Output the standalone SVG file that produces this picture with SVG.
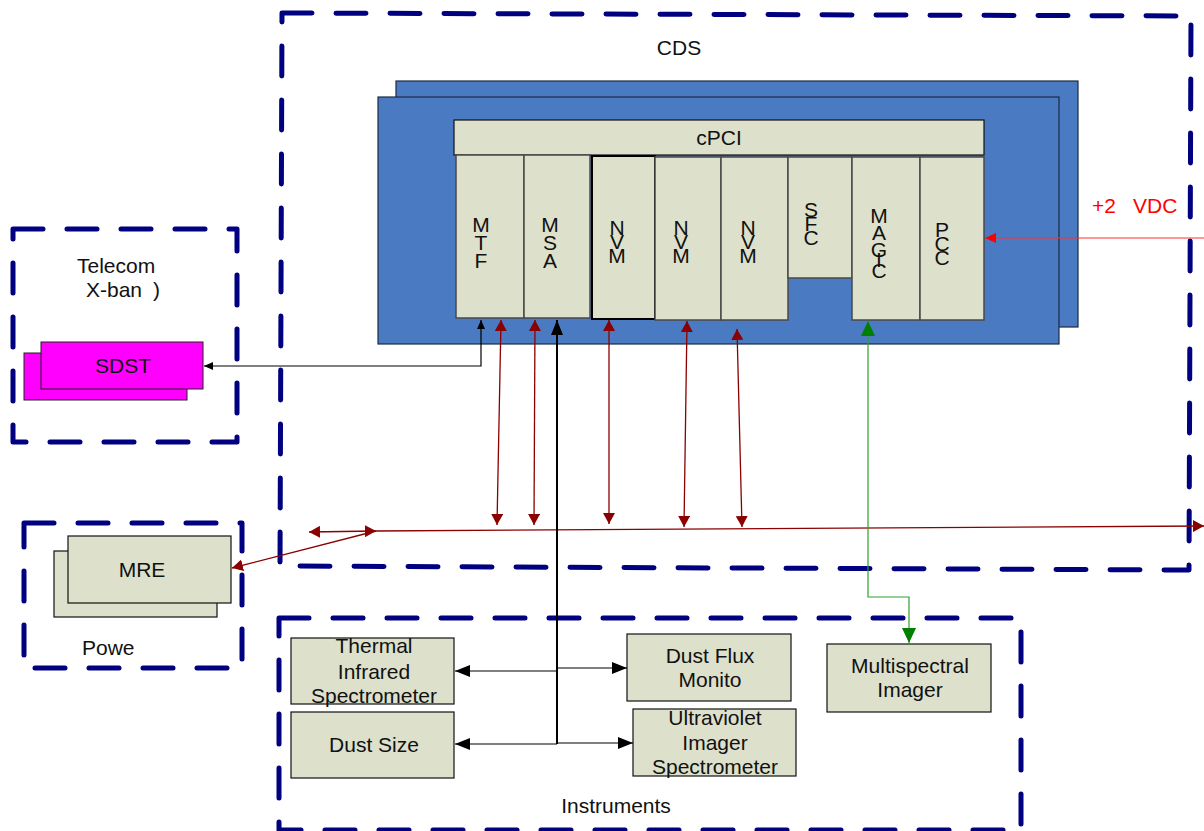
<svg xmlns="http://www.w3.org/2000/svg" width="1204" height="831" viewBox="0 0 1204 831">
<style>
text{font-family:"Liberation Sans",Arial,sans-serif;font-size:21px;fill:#111;}
.c{text-anchor:middle;}
.dash{fill:none;stroke:#000080;stroke-width:5;stroke-dasharray:30 24;stroke-linecap:round;stroke-linejoin:round;}
.chassis{fill:#4a7bc2;stroke:#1c2b44;stroke-width:1.2;}
.box{fill:#dde0cb;stroke:#111;stroke-width:1.2;}
.slot{fill:#dde0cb;stroke:#4a4a4a;stroke-width:1.5;}
.pink{fill:#ff00ff;stroke:#222;stroke-width:1;}
.dr{stroke:#8b0000;stroke-width:1.3;fill:none;}
.bk{stroke:#000;stroke-width:1.2;fill:none;}
.bkt{stroke:#000;stroke-width:2;fill:none;}
.gr{stroke:#2ea02e;stroke-width:1.2;fill:none;}
.rd{stroke:#ff3030;stroke-width:1.2;fill:none;}
</style>
<defs>
<marker id="mDR" markerUnits="userSpaceOnUse" markerWidth="12" markerHeight="12" refX="11" refY="6" orient="auto-start-reverse"><path d="M0,0 L11,6 L0,12 z" fill="#8b0000"/></marker>
<marker id="mBK" markerUnits="userSpaceOnUse" markerWidth="10" markerHeight="10" refX="9" refY="4" orient="auto-start-reverse"><path d="M0,0 L9,4 L0,8 z" fill="#000"/></marker>
<marker id="mBKL" markerUnits="userSpaceOnUse" markerWidth="16" markerHeight="12" refX="15" refY="6" orient="auto-start-reverse"><path d="M0,0 L15,6 L0,12 z" fill="#000"/></marker>
<marker id="mGR" markerUnits="userSpaceOnUse" markerWidth="16" markerHeight="14" refX="15" refY="7" orient="auto-start-reverse"><path d="M0,0 L15,7 L0,14 z" fill="#008000"/></marker>
<marker id="mRD" markerUnits="userSpaceOnUse" markerWidth="12" markerHeight="12" refX="11" refY="5" orient="auto-start-reverse"><path d="M0,0 L11,5 L0,10 z" fill="#ff0000"/></marker>
</defs>

<g id="cds-group">
<path class="dash" d="M282,13 L1191,16 L1189,570 L280,566 Z"/>
<text class="c" x="679" y="55">CDS</text>
</g>
<g id="telecom-group">
<rect class="dash" x="13" y="229" width="224" height="213"/>
<text x="77" y="273">Telecom</text>
<text x="86" y="297">X-ban<tspan x="153">)</tspan></text>
</g>
<g id="power-group">
<rect class="dash" x="24" y="523" width="218" height="145"/>
<text x="82" y="655">Powe</text>
</g>
<g id="instruments-group">
<rect class="dash" x="279" y="618" width="742" height="212"/>
<text class="c" x="616" y="813">Instruments</text>
</g>

<g id="chassis">
<rect class="chassis" x="396" y="81" width="682" height="246"/>
<rect class="chassis" x="378" y="97" width="681" height="247"/>
</g>
<g id="cpci">
<rect class="box" x="454" y="120" width="530" height="35"/>
<text class="c" x="719" y="145">cPCI</text>
</g>
<g id="slot-mtf">
<rect class="slot" x="456" y="155" width="68" height="163"/>
<text class="c"><tspan x="481" y="232">M</tspan><tspan x="481" y="250">T</tspan><tspan x="481" y="268">F</tspan></text>
</g>
<g id="slot-msa">
<rect class="slot" x="524" y="155" width="66" height="163"/>
<text class="c"><tspan x="550" y="232">M</tspan><tspan x="550" y="250">S</tspan><tspan x="550" y="268">A</tspan></text>
</g>
<g id="slot-nvm1">
<rect x="592" y="156" width="63" height="163" fill="#dde0cb" stroke="#000" stroke-width="2"/>
<text class="c"><tspan x="617" y="235">N</tspan><tspan x="617" y="249">V</tspan><tspan x="617" y="263">M</tspan></text>
</g>
<g id="slot-nvm2">
<rect class="slot" x="655" y="157" width="66" height="163"/>
<text class="c"><tspan x="681" y="235">N</tspan><tspan x="681" y="249">V</tspan><tspan x="681" y="263">M</tspan></text>
</g>
<g id="slot-nvm3">
<rect class="slot" x="721" y="157" width="67" height="163"/>
<text class="c"><tspan x="748" y="235">N</tspan><tspan x="748" y="249">V</tspan><tspan x="748" y="263">M</tspan></text>
</g>
<g id="slot-sfc">
<rect class="slot" x="788" y="157" width="64" height="121"/>
<text class="c"><tspan x="811" y="217">S</tspan><tspan x="811" y="231">F</tspan><tspan x="811" y="245">C</tspan></text>
</g>
<g id="slot-magc">
<rect class="slot" x="852" y="157" width="68" height="163"/>
<text class="c"><tspan x="879" y="223">M</tspan><tspan x="879" y="240">A</tspan><tspan x="879" y="257">G</tspan><tspan x="879" y="267">I</tspan><tspan x="879" y="278">C</tspan></text>
</g>
<g id="slot-pcc">
<rect class="slot" x="920" y="157" width="64" height="163"/>
<text class="c"><tspan x="942" y="237">P</tspan><tspan x="942" y="251">C</tspan><tspan x="942" y="265">C</tspan></text>
</g>

<g id="sdst">
<rect class="pink" x="24" y="353" width="163" height="47"/>
<rect class="pink" x="41" y="342" width="162" height="47"/>
<text class="c" x="123" y="373">SDST</text>
</g>
<g id="mre">
<rect class="box" x="54" y="551" width="163" height="66" stroke="#555"/>
<rect class="box" x="68" y="536" width="163" height="67" stroke="#555"/>
<text class="c" x="142" y="577">MRE</text>
</g>
<g id="thermal">
<rect class="box" x="291" y="638" width="163" height="66"/>
<text class="c"><tspan x="374" y="653">Thermal</tspan><tspan x="374" y="679">Infrared</tspan><tspan x="374" y="703">Spectrometer</tspan></text>
</g>
<g id="dust-size">
<rect class="box" x="291" y="712" width="163" height="66"/>
<text class="c" x="374" y="752">Dust Size</text>
</g>
<g id="dust-flux">
<rect class="box" x="627" y="634" width="164" height="67"/>
<text class="c"><tspan x="710" y="663">Dust Flux</tspan><tspan x="710" y="687">Monito</tspan></text>
</g>
<g id="uv">
<rect class="box" x="633" y="709" width="163" height="67"/>
<text class="c"><tspan x="715" y="725">Ultraviolet</tspan><tspan x="715" y="750">Imager</tspan><tspan x="715" y="774">Spectrometer</tspan></text>
</g>
<g id="multispectral">
<rect class="box" x="827" y="644" width="164" height="68"/>
<text class="c"><tspan x="910" y="673">Multispectral</tspan><tspan x="910" y="697">Imager</tspan></text>
</g>
<g id="vdc-label">
<text x="1092" y="213" fill="#ff0000" style="fill:#ff0000">+2<tspan x="1133">VDC</tspan></text>
</g>

<g id="connectors">
<polyline class="bk" points="481,320 481,366 204,366" marker-start="url(#mBK)" marker-end="url(#mBK)"/>
<line class="dr" x1="501" y1="320" x2="497" y2="525" marker-start="url(#mDR)" marker-end="url(#mDR)"/>
<line class="dr" x1="535" y1="320" x2="534" y2="525" marker-start="url(#mDR)" marker-end="url(#mDR)"/>
<line class="dr" x1="609" y1="320" x2="609" y2="524" marker-start="url(#mDR)" marker-end="url(#mDR)"/>
<line class="dr" x1="687" y1="321" x2="684" y2="527" marker-start="url(#mDR)" marker-end="url(#mDR)"/>
<line class="dr" x1="737" y1="329" x2="742" y2="527" marker-start="url(#mDR)" marker-end="url(#mDR)"/>
<line class="dr" x1="309" y1="532" x2="376" y2="531" marker-start="url(#mDR)" marker-end="url(#mDR)"/>
<line class="dr" x1="376" y1="531" x2="1204" y2="526" marker-end="url(#mDR)"/>
<line class="dr" x1="376" y1="531" x2="232" y2="568" marker-end="url(#mDR)"/>
<line class="bkt" x1="557" y1="744" x2="557" y2="320" marker-end="url(#mBKL)"/>
<line class="bk" x1="557" y1="671" x2="455" y2="671" marker-end="url(#mBKL)"/>
<line class="bk" x1="557" y1="668" x2="627" y2="668" marker-end="url(#mBKL)"/>
<line class="bk" x1="557" y1="744" x2="455" y2="744" marker-end="url(#mBKL)"/>
<line class="bk" x1="557" y1="743" x2="633" y2="743" marker-end="url(#mBKL)"/>
<polyline class="gr" points="868,321 868,597 909,597 909,643" marker-start="url(#mGR)" marker-end="url(#mGR)"/>
<line class="rd" x1="1204" y1="238" x2="985" y2="238" marker-end="url(#mRD)"/>
</g>
</svg>
